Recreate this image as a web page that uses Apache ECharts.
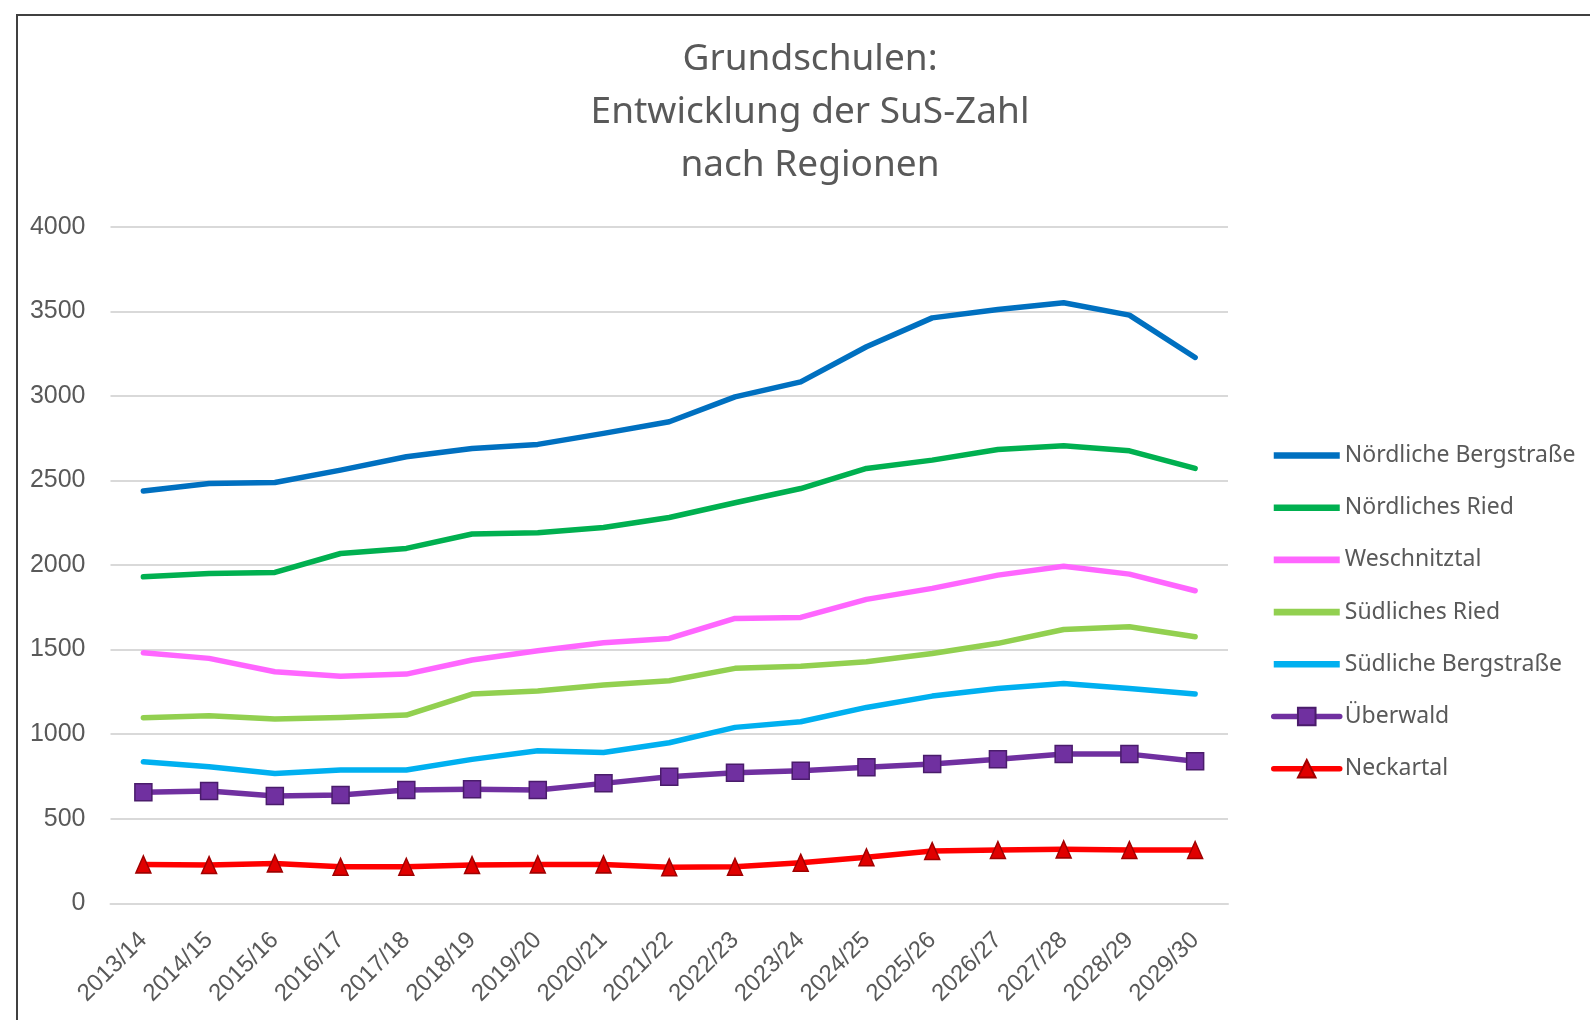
<!DOCTYPE html>
<html>
<head>
<meta charset="utf-8">
<script src="https://cdn.jsdelivr.net/npm/echarts@6/dist/echarts.min.js"></script>
<style>
html,body{margin:0;padding:0;background:#fff;}
#chart{width:1590px;height:1020px;}
</style>
</head>
<body>
<div id="chart"></div>
<script>
const categories = ['2013/14','2014/15','2015/16','2016/17','2017/18','2018/19','2019/20','2020/21','2021/22','2022/23','2023/24','2024/25','2025/26','2026/27','2027/28','2028/29','2029/30'];
const noerdlicheBergstrasse = [2437,2482,2488,2561,2640,2689,2713,2778,2847,2994,3083,3290,3461,3511,3550,3477,3227];
const noerdlichesRied = [1930,1950,1956,2068,2098,2183,2190,2222,2281,2368,2452,2571,2620,2683,2705,2675,2571];
const weschnitztal = [1481,1448,1369,1343,1355,1438,1493,1540,1566,1684,1690,1797,1862,1940,1993,1946,1848];
const suedlichesRied = [1097,1109,1089,1099,1113,1237,1255,1290,1316,1389,1402,1428,1477,1537,1619,1635,1576];
const suedlicheBergstrasse = [837,807,768,788,788,851,902,892,949,1040,1073,1158,1225,1270,1300,1270,1237];
const ueberwald = [656,664,634,640,670,674,670,709,748,772,784,804,823,851,882,882,840];
const neckartal = [230,226,236,216,216,226,230,230,213,216,240,272,309,315,319,315,315];
const yTicks = {min:0, max:4000, interval:500};
const seriesNames = ['Nördliche Bergstraße','Nördliches Ried','Weschnitztal','Südliches Ried','Südliche Bergstraße','Überwald','Neckartal'];

const font = 'Noto Sans';
const axisFont = 'Liberation Sans';
const gray = '#595959';
const barIcon = 'path://M3,0 L63,0 L63,6 L3,6 Z';

function lineSeries(name, data, color) {
  return {
    name: name, type: 'line', data: data,
    symbol: 'none', showSymbol: false,
    lineStyle: {color: color, width: 5.5, cap: 'round', join: 'round'},
    itemStyle: {color: color},
    emphasis: {disabled: true},
    animation: false
  };
}
function markerSeries(name, data, color, symbol, size, fill, border) {
  return {
    name: name, type: 'line', data: data,
    symbol: symbol, symbolSize: size, showSymbol: true, showAllSymbol: true,
    lineStyle: {color: color, width: 5.5, cap: 'round', join: 'round'},
    itemStyle: {color: fill, borderColor: border, borderWidth: 1.5},
    emphasis: {disabled: true},
    animation: false
  };
}

const chart = echarts.init(document.getElementById('chart'));
chart.setOption({
  backgroundColor: '#fff',
  animation: false,
  title: {
    text: 'Grundschulen:\nEntwicklung der SuS-Zahl\nnach Regionen',
    left: 805, top: 27.5, textAlign: 'center',
    textStyle: {fontFamily: font, fontSize: 37, fontWeight: 'normal', color: gray, lineHeight: 53.2}
  },
  graphic: [{
    type: 'rect', shape: {x: 17, y: 15, width: 1620, height: 1100},
    style: {fill: 'none', stroke: '#404040', lineWidth: 2}, silent: true, z: 100
  }],
  legend: {
    orient: 'vertical', left: 1266, top: 439,
    itemWidth: 66, itemHeight: 22, itemGap: 29.2,
    lineStyle: {width: 5.5},
    textStyle: {fontFamily: font, fontSize: 23, color: gray},
    data: [
      {name: seriesNames[0], icon: barIcon},
      {name: seriesNames[1], icon: barIcon},
      {name: seriesNames[2], icon: barIcon},
      {name: seriesNames[3], icon: barIcon},
      {name: seriesNames[4], icon: barIcon},
      {name: seriesNames[5]},
      {name: seriesNames[6]}
    ]
  },
  grid: {left: 110.5, right: 362, top: 226.7, bottom: 116.7, containLabel: false},
  xAxis: {
    type: 'category', data: categories, boundaryGap: true,
    axisLine: {show: true, lineStyle: {color: '#D9D9D9', width: 2}},
    axisTick: {show: false},
    axisLabel: {rotate: 45, interval: 0, margin: 33, fontFamily: axisFont, fontSize: 24, color: gray}
  },
  yAxis: {
    type: 'value', min: yTicks.min, max: yTicks.max, interval: yTicks.interval,
    axisLine: {show: false}, axisTick: {show: false},
    splitLine: {lineStyle: {color: '#D9D9D9', width: 2}},
    axisLabel: {margin: 25, fontFamily: axisFont, fontSize: 25, color: gray, formatter: v => String(v)}
  },
  series: [
    lineSeries(seriesNames[0], noerdlicheBergstrasse, '#0070C0'),
    lineSeries(seriesNames[1], noerdlichesRied, '#00B050'),
    lineSeries(seriesNames[2], weschnitztal, '#FF66FF'),
    lineSeries(seriesNames[3], suedlichesRied, '#92D050'),
    lineSeries(seriesNames[4], suedlicheBergstrasse, '#00B0F0'),
    markerSeries(seriesNames[5], ueberwald, '#7030A0', 'rect', 17, '#7030A0', '#4A1C6B'),
    markerSeries(seriesNames[6], neckartal, '#FF0000', 'triangle', [15,17], '#E00000', '#A00000')
  ]
});
</script>
</body>
</html>
